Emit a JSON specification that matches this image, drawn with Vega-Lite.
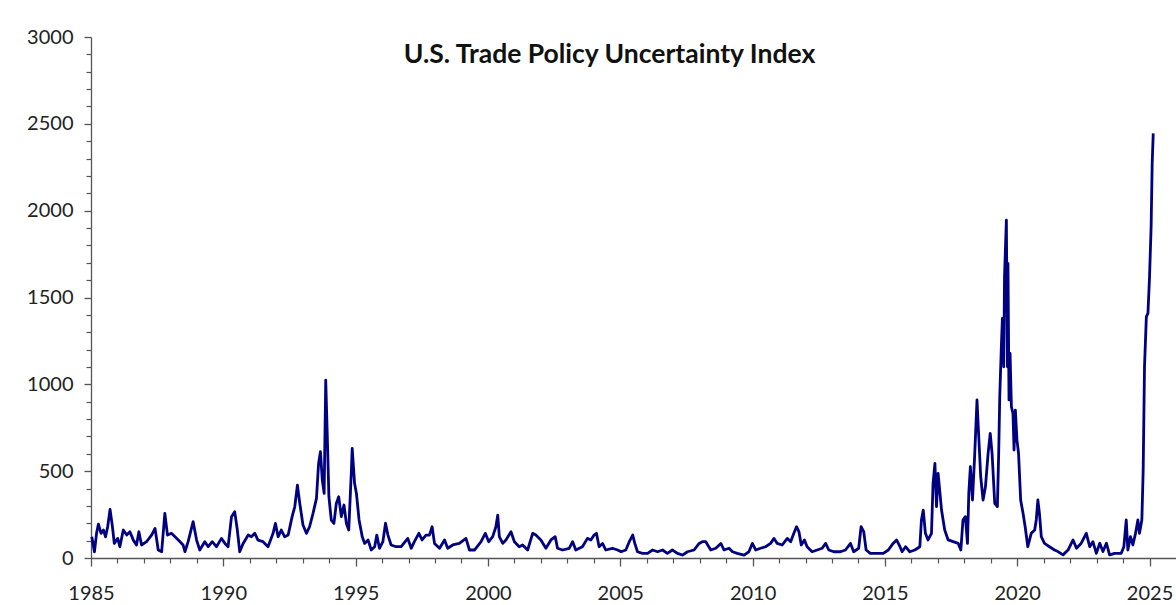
{
  "$schema": "https://vega.github.io/schema/vega-lite/v6.json",
  "width": 1085,
  "height": 521,
  "autosize": {"type": "none"},
  "padding": {"left": 91, "top": 37, "right": 0, "bottom": 47},
  "background": "white",
  "config": {"view": {"stroke": null}, "font": "Lato"},
  "title": {
    "text": "U.S. Trade Policy Uncertainty Index",
    "font": "Lato",
    "fontSize": 26.5,
    "fontWeight": "bold",
    "color": "#111111",
    "anchor": "middle",
    "frame": "group",
    "baseline": "alphabetic",
    "offset": -26,
    "dy": 36,
    "dx": -24
  },
  "data": {
    "values": [
      {"year": 1985.03, "value": 122}, {"year": 1985.13, "value": 36}, {"year": 1985.21, "value": 142}, {"year": 1985.28, "value": 195},
      {"year": 1985.38, "value": 142}, {"year": 1985.47, "value": 161}, {"year": 1985.55, "value": 122}, {"year": 1985.63, "value": 180},
      {"year": 1985.72, "value": 280}, {"year": 1985.81, "value": 180}, {"year": 1985.88, "value": 84}, {"year": 1986.01, "value": 113},
      {"year": 1986.09, "value": 65}, {"year": 1986.22, "value": 161}, {"year": 1986.35, "value": 132}, {"year": 1986.47, "value": 151},
      {"year": 1986.6, "value": 103}, {"year": 1986.72, "value": 75}, {"year": 1986.81, "value": 151}, {"year": 1986.91, "value": 75},
      {"year": 1987.1, "value": 94}, {"year": 1987.29, "value": 132}, {"year": 1987.42, "value": 170}, {"year": 1987.54, "value": 46},
      {"year": 1987.67, "value": 36}, {"year": 1987.79, "value": 257}, {"year": 1987.89, "value": 132}, {"year": 1988.04, "value": 142},
      {"year": 1988.3, "value": 103}, {"year": 1988.48, "value": 75}, {"year": 1988.55, "value": 36}, {"year": 1988.67, "value": 94},
      {"year": 1988.86, "value": 209}, {"year": 1988.99, "value": 103}, {"year": 1989.11, "value": 46}, {"year": 1989.3, "value": 94},
      {"year": 1989.43, "value": 65}, {"year": 1989.58, "value": 94}, {"year": 1989.74, "value": 65}, {"year": 1989.93, "value": 113},
      {"year": 1990.06, "value": 84}, {"year": 1990.18, "value": 65}, {"year": 1990.31, "value": 238}, {"year": 1990.43, "value": 267},
      {"year": 1990.53, "value": 161}, {"year": 1990.62, "value": 36}, {"year": 1990.75, "value": 84}, {"year": 1990.94, "value": 132},
      {"year": 1991.06, "value": 122}, {"year": 1991.19, "value": 142}, {"year": 1991.31, "value": 103}, {"year": 1991.5, "value": 94},
      {"year": 1991.69, "value": 65}, {"year": 1991.88, "value": 142}, {"year": 1991.97, "value": 199}, {"year": 1992.07, "value": 122},
      {"year": 1992.19, "value": 161}, {"year": 1992.32, "value": 122}, {"year": 1992.45, "value": 132}, {"year": 1992.6, "value": 238},
      {"year": 1992.7, "value": 295}, {"year": 1992.8, "value": 420}, {"year": 1992.89, "value": 314}, {"year": 1993.01, "value": 190},
      {"year": 1993.14, "value": 142}, {"year": 1993.26, "value": 180}, {"year": 1993.39, "value": 257}, {"year": 1993.52, "value": 343},
      {"year": 1993.6, "value": 545}, {"year": 1993.67, "value": 612}, {"year": 1993.74, "value": 449}, {"year": 1993.81, "value": 372},
      {"year": 1993.87, "value": 1024}, {"year": 1993.93, "value": 698}, {"year": 1993.99, "value": 353}, {"year": 1994.08, "value": 218},
      {"year": 1994.18, "value": 199}, {"year": 1994.27, "value": 314}, {"year": 1994.36, "value": 353}, {"year": 1994.46, "value": 238},
      {"year": 1994.56, "value": 305}, {"year": 1994.65, "value": 199}, {"year": 1994.74, "value": 161}, {"year": 1994.84, "value": 506},
      {"year": 1994.87, "value": 631}, {"year": 1994.96, "value": 430}, {"year": 1995.03, "value": 372}, {"year": 1995.13, "value": 219},
      {"year": 1995.25, "value": 123}, {"year": 1995.34, "value": 84}, {"year": 1995.47, "value": 104}, {"year": 1995.59, "value": 46},
      {"year": 1995.72, "value": 65}, {"year": 1995.8, "value": 132}, {"year": 1995.9, "value": 56}, {"year": 1996.03, "value": 94},
      {"year": 1996.13, "value": 200}, {"year": 1996.22, "value": 132}, {"year": 1996.34, "value": 75}, {"year": 1996.53, "value": 65},
      {"year": 1996.72, "value": 65}, {"year": 1996.97, "value": 113}, {"year": 1997.1, "value": 56}, {"year": 1997.22, "value": 94},
      {"year": 1997.39, "value": 142}, {"year": 1997.51, "value": 104}, {"year": 1997.66, "value": 132}, {"year": 1997.79, "value": 132},
      {"year": 1997.89, "value": 180}, {"year": 1997.98, "value": 84}, {"year": 1998.17, "value": 56}, {"year": 1998.36, "value": 104},
      {"year": 1998.48, "value": 56}, {"year": 1998.67, "value": 75}, {"year": 1998.92, "value": 84}, {"year": 1999.17, "value": 113},
      {"year": 1999.3, "value": 46}, {"year": 1999.49, "value": 46}, {"year": 1999.74, "value": 94}, {"year": 1999.9, "value": 142},
      {"year": 2000.03, "value": 94}, {"year": 2000.18, "value": 123}, {"year": 2000.3, "value": 180}, {"year": 2000.37, "value": 247},
      {"year": 2000.43, "value": 123}, {"year": 2000.56, "value": 84}, {"year": 2000.68, "value": 104}, {"year": 2000.87, "value": 151},
      {"year": 2001.0, "value": 94}, {"year": 2001.18, "value": 65}, {"year": 2001.31, "value": 75}, {"year": 2001.5, "value": 46},
      {"year": 2001.69, "value": 142}, {"year": 2001.81, "value": 132}, {"year": 2002.0, "value": 104}, {"year": 2002.19, "value": 56},
      {"year": 2002.38, "value": 104}, {"year": 2002.54, "value": 123}, {"year": 2002.63, "value": 56}, {"year": 2002.82, "value": 46},
      {"year": 2003.07, "value": 56}, {"year": 2003.2, "value": 94}, {"year": 2003.32, "value": 46}, {"year": 2003.57, "value": 65},
      {"year": 2003.76, "value": 113}, {"year": 2003.89, "value": 104}, {"year": 2004.01, "value": 132}, {"year": 2004.1, "value": 142},
      {"year": 2004.2, "value": 65}, {"year": 2004.33, "value": 84}, {"year": 2004.45, "value": 46}, {"year": 2004.7, "value": 56},
      {"year": 2004.9, "value": 46}, {"year": 2005.03, "value": 36}, {"year": 2005.21, "value": 46}, {"year": 2005.34, "value": 94},
      {"year": 2005.47, "value": 132}, {"year": 2005.55, "value": 84}, {"year": 2005.65, "value": 36}, {"year": 2005.84, "value": 27},
      {"year": 2006.03, "value": 27}, {"year": 2006.22, "value": 46}, {"year": 2006.41, "value": 36}, {"year": 2006.6, "value": 46},
      {"year": 2006.78, "value": 27}, {"year": 2006.97, "value": 46}, {"year": 2007.16, "value": 27}, {"year": 2007.35, "value": 17},
      {"year": 2007.54, "value": 36}, {"year": 2007.79, "value": 46}, {"year": 2007.98, "value": 84}, {"year": 2008.1, "value": 94},
      {"year": 2008.23, "value": 94}, {"year": 2008.42, "value": 46}, {"year": 2008.61, "value": 56}, {"year": 2008.8, "value": 84},
      {"year": 2008.92, "value": 46}, {"year": 2009.11, "value": 56}, {"year": 2009.24, "value": 36}, {"year": 2009.42, "value": 27},
      {"year": 2009.68, "value": 17}, {"year": 2009.86, "value": 36}, {"year": 2009.99, "value": 84}, {"year": 2010.12, "value": 46},
      {"year": 2010.3, "value": 56}, {"year": 2010.49, "value": 65}, {"year": 2010.68, "value": 84}, {"year": 2010.81, "value": 113},
      {"year": 2010.93, "value": 84}, {"year": 2011.12, "value": 75}, {"year": 2011.31, "value": 113}, {"year": 2011.44, "value": 94},
      {"year": 2011.56, "value": 142}, {"year": 2011.66, "value": 180}, {"year": 2011.75, "value": 152}, {"year": 2011.84, "value": 75},
      {"year": 2011.96, "value": 104}, {"year": 2012.06, "value": 65}, {"year": 2012.25, "value": 36}, {"year": 2012.44, "value": 46},
      {"year": 2012.63, "value": 56}, {"year": 2012.76, "value": 84}, {"year": 2012.88, "value": 46}, {"year": 2013.07, "value": 36},
      {"year": 2013.32, "value": 36}, {"year": 2013.51, "value": 46}, {"year": 2013.7, "value": 84}, {"year": 2013.82, "value": 36},
      {"year": 2014.01, "value": 56}, {"year": 2014.1, "value": 180}, {"year": 2014.2, "value": 152}, {"year": 2014.29, "value": 46},
      {"year": 2014.45, "value": 27}, {"year": 2014.7, "value": 27}, {"year": 2014.94, "value": 27}, {"year": 2015.13, "value": 46},
      {"year": 2015.31, "value": 84}, {"year": 2015.44, "value": 104}, {"year": 2015.57, "value": 65}, {"year": 2015.65, "value": 36},
      {"year": 2015.78, "value": 65}, {"year": 2015.94, "value": 36}, {"year": 2016.13, "value": 46}, {"year": 2016.32, "value": 65},
      {"year": 2016.38, "value": 219}, {"year": 2016.45, "value": 276}, {"year": 2016.53, "value": 142}, {"year": 2016.63, "value": 104},
      {"year": 2016.76, "value": 142}, {"year": 2016.82, "value": 430}, {"year": 2016.89, "value": 545}, {"year": 2016.95, "value": 296},
      {"year": 2017.01, "value": 487}, {"year": 2017.07, "value": 391}, {"year": 2017.14, "value": 276}, {"year": 2017.26, "value": 161},
      {"year": 2017.39, "value": 104}, {"year": 2017.58, "value": 94}, {"year": 2017.77, "value": 84}, {"year": 2017.87, "value": 46},
      {"year": 2017.95, "value": 219}, {"year": 2018.04, "value": 238}, {"year": 2018.12, "value": 84}, {"year": 2018.17, "value": 372},
      {"year": 2018.23, "value": 526}, {"year": 2018.31, "value": 334}, {"year": 2018.39, "value": 583}, {"year": 2018.48, "value": 910},
      {"year": 2018.54, "value": 718}, {"year": 2018.62, "value": 468}, {"year": 2018.71, "value": 334}, {"year": 2018.8, "value": 411},
      {"year": 2018.9, "value": 603}, {"year": 2018.98, "value": 718}, {"year": 2019.05, "value": 603}, {"year": 2019.15, "value": 315},
      {"year": 2019.25, "value": 296}, {"year": 2019.3, "value": 603}, {"year": 2019.34, "value": 929}, {"year": 2019.4, "value": 1217},
      {"year": 2019.44, "value": 1380}, {"year": 2019.49, "value": 1101}, {"year": 2019.52, "value": 1620}, {"year": 2019.59, "value": 1946},
      {"year": 2019.63, "value": 1101}, {"year": 2019.65, "value": 1696}, {"year": 2019.69, "value": 910}, {"year": 2019.73, "value": 1178},
      {"year": 2019.78, "value": 871}, {"year": 2019.84, "value": 833}, {"year": 2019.88, "value": 622}, {"year": 2019.93, "value": 852},
      {"year": 2019.99, "value": 679}, {"year": 2020.05, "value": 603}, {"year": 2020.13, "value": 334}, {"year": 2020.22, "value": 257},
      {"year": 2020.3, "value": 180}, {"year": 2020.4, "value": 65}, {"year": 2020.53, "value": 142}, {"year": 2020.66, "value": 161},
      {"year": 2020.72, "value": 219}, {"year": 2020.78, "value": 334}, {"year": 2020.84, "value": 257}, {"year": 2020.91, "value": 123},
      {"year": 2021.03, "value": 84}, {"year": 2021.22, "value": 65}, {"year": 2021.41, "value": 46}, {"year": 2021.54, "value": 37},
      {"year": 2021.73, "value": 18}, {"year": 2021.92, "value": 46}, {"year": 2022.11, "value": 104}, {"year": 2022.24, "value": 56},
      {"year": 2022.42, "value": 85}, {"year": 2022.61, "value": 142}, {"year": 2022.74, "value": 65}, {"year": 2022.86, "value": 94},
      {"year": 2022.99, "value": 27}, {"year": 2023.12, "value": 85}, {"year": 2023.24, "value": 37}, {"year": 2023.37, "value": 85},
      {"year": 2023.49, "value": 18}, {"year": 2023.68, "value": 27}, {"year": 2023.93, "value": 27}, {"year": 2024.03, "value": 65},
      {"year": 2024.12, "value": 219}, {"year": 2024.18, "value": 46}, {"year": 2024.28, "value": 123}, {"year": 2024.37, "value": 75},
      {"year": 2024.47, "value": 142}, {"year": 2024.56, "value": 219}, {"year": 2024.62, "value": 142}, {"year": 2024.71, "value": 219},
      {"year": 2024.76, "value": 507}, {"year": 2024.81, "value": 1102}, {"year": 2024.88, "value": 1390}, {"year": 2024.94, "value": 1409},
      {"year": 2025.0, "value": 1620}, {"year": 2025.06, "value": 1908}, {"year": 2025.1, "value": 2272}, {"year": 2025.14, "value": 2445}
    ]
  },
  "layer": [
    {
      "mark": {"type": "line", "color": "#000080", "strokeWidth": 2.8, "strokeJoin": "round"},
      "encoding": {
        "x": {
          "field": "year", "type": "quantitative",
          "scale": {"domain": [1985, 2026], "nice": false, "zero": false},
          "axis": {
            "orient": "bottom",
            "values": [1985, 1990, 1995, 2000, 2005, 2010, 2015, 2020, 2025],
            "format": "d", "title": null, "grid": false,
            "domainColor": "#555555", "domainWidth": 1.3,
            "tickColor": "#555555", "tickSize": 8, "tickWidth": 1.3,
            "labelFont": "Lato", "labelFontSize": 20, "labelColor": "#222222", "labelPadding": 17,
            "labelFlush": false, "labelOverlap": false
          }
        },
        "y": {
          "field": "value", "type": "quantitative",
          "scale": {"domain": [0, 3000], "nice": false},
          "axis": {
            "orient": "left",
            "values": [0, 500, 1000, 1500, 2000, 2500, 3000],
            "format": "d",
            "title": null, "grid": false,
            "domainColor": "#555555", "domainWidth": 1.3,
            "tickColor": "#555555", "tickSize": 7, "tickWidth": 1.3,
            "labelFont": "Lato", "labelFontSize": 20, "labelColor": "#222222", "labelPadding": 11,
            "labelOverlap": false
          }
        }
      }
    },
    {
      "mark": {"type": "line", "opacity": 0},
      "encoding": {
        "x": {
          "field": "year", "type": "quantitative",
          "axis": {
            "orient": "bottom",
            "values": [1986, 1987, 1988, 1989, 1991, 1992, 1993, 1994, 1996, 1997, 1998, 1999, 2001, 2002, 2003, 2004, 2006, 2007, 2008, 2009, 2011, 2012, 2013, 2014, 2016, 2017, 2018, 2019, 2021, 2022, 2023, 2024],
            "title": null, "grid": false, "labels": false, "domain": false,
            "tickColor": "#555555", "tickSize": 5, "tickWidth": 1.2
          }
        },
        "y": {
          "field": "value", "type": "quantitative",
          "axis": {
            "orient": "left",
            "values": [100, 200, 300, 400, 600, 700, 800, 900, 1100, 1200, 1300, 1400, 1600, 1700, 1800, 1900, 2100, 2200, 2300, 2400, 2600, 2700, 2800, 2900],
            "title": null, "grid": false, "labels": false, "domain": false,
            "tickColor": "#555555", "tickSize": 5, "tickWidth": 1.2
          }
        }
      }
    }
  ],
  "resolve": {"axis": {"x": "independent", "y": "independent"}}
}
